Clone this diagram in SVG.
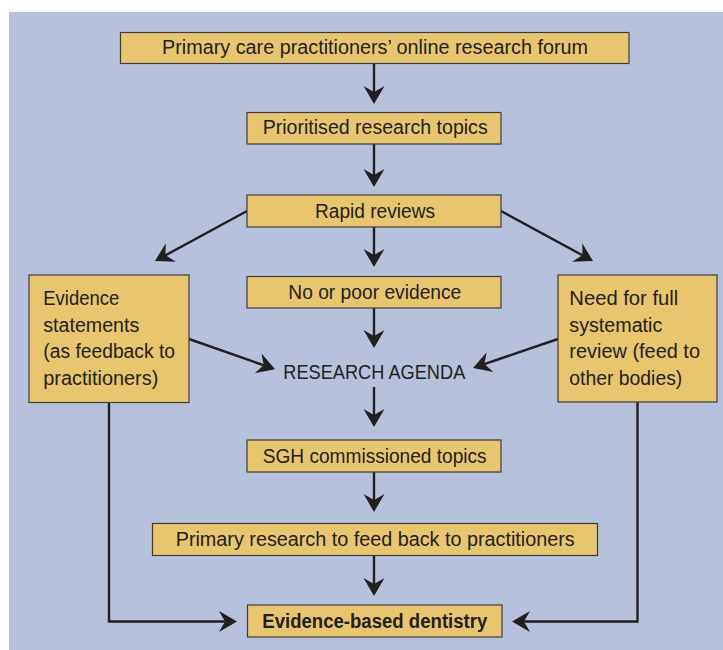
<svg xmlns="http://www.w3.org/2000/svg" width="723" height="650" viewBox="0 0 723 650">
<style>
.box{fill:#e8c66f;stroke:#3d3b3a;stroke-width:1.2}
.t{font-family:"Liberation Sans",Arial,sans-serif;font-size:19.5px;fill:#231f20}
.b{font-weight:bold}
.big{font-size:21px}
.c{fill:none;stroke:#231f20;stroke-width:2.4}
</style>
<defs>
<marker id="ah" viewBox="0 -11 18 22" refX="10" refY="0" markerWidth="18" markerHeight="22" markerUnits="userSpaceOnUse" orient="auto">
<path d="M18,0 L0,-10.5 L6,0 L0,10.5 Z" fill="#231f20"/>
</marker>
</defs>
<rect x="9" y="12" width="714" height="638" fill="#b8c1dc"/>
<g id="connectors">
<line class="c" x1="374" y1="63" x2="374" y2="96" marker-end="url(#ah)"/>
<line class="c" x1="374" y1="144" x2="374" y2="179" marker-end="url(#ah)"/>
<line class="c" x1="374" y1="227" x2="374" y2="259" marker-end="url(#ah)"/>
<line class="c" x1="374" y1="308" x2="374" y2="340" marker-end="url(#ah)"/>
<line class="c" x1="374" y1="387" x2="374" y2="419" marker-end="url(#ah)"/>
<line class="c" x1="374" y1="472" x2="374" y2="504" marker-end="url(#ah)"/>
<line class="c" x1="374" y1="555" x2="374" y2="588" marker-end="url(#ah)"/>
<line class="c" x1="247" y1="211" x2="162" y2="257.2" marker-end="url(#ah)"/>
<line class="c" x1="501" y1="211" x2="586" y2="257.2" marker-end="url(#ah)"/>
<line class="c" x1="189" y1="339" x2="267.5" y2="366.6" marker-end="url(#ah)"/>
<line class="c" x1="558" y1="339" x2="480.6" y2="365.4" marker-end="url(#ah)"/>
<path class="c" d="M109,402 V621.5 H229" marker-end="url(#ah)"/>
<path class="c" d="M637.5,402 V621.5 H520" marker-end="url(#ah)"/>
</g>
<g id="forum">
<rect class="box" x="120.5" y="32.5" width="508.5" height="31"/>
<text class="t" x="162" y="54" textLength="426" lengthAdjust="spacingAndGlyphs">Primary care practitioners’ online research forum</text>
</g>
<g id="prioritised">
<rect class="box" x="247" y="112.5" width="254" height="31.5"/>
<text class="t" x="262.7" y="134.3" textLength="225" lengthAdjust="spacingAndGlyphs">Prioritised research topics</text>
</g>
<g id="rapid">
<rect class="box" x="247" y="195" width="254" height="32"/>
<text class="t" x="315" y="217.5" textLength="120" lengthAdjust="spacingAndGlyphs">Rapid reviews</text>
</g>
<g id="poor">
<rect class="box" x="247" y="276.5" width="254" height="31.5"/>
<text class="t" x="288.3" y="298.5" textLength="173" lengthAdjust="spacingAndGlyphs">No or poor evidence</text>
</g>
<g id="statements">
<rect class="box" x="29" y="275" width="160" height="127.5"/>
<text class="t" x="43.3" y="305" textLength="76" lengthAdjust="spacingAndGlyphs">Evidence</text>
<text class="t" x="43.3" y="331.7" textLength="96" lengthAdjust="spacingAndGlyphs">statements</text>
<text class="t" x="43.3" y="358.3" textLength="131.7" lengthAdjust="spacingAndGlyphs">(as feedback to</text>
<text class="t" x="43.3" y="385" textLength="115" lengthAdjust="spacingAndGlyphs">practitioners)</text>
</g>
<g id="systematic">
<rect class="box" x="558" y="275" width="159" height="127"/>
<text class="t" x="569.3" y="305" textLength="109" lengthAdjust="spacingAndGlyphs">Need for full</text>
<text class="t" x="569.3" y="331.7" textLength="93" lengthAdjust="spacingAndGlyphs">systematic</text>
<text class="t" x="569.3" y="358.3" textLength="130.7" lengthAdjust="spacingAndGlyphs">review (feed to</text>
<text class="t" x="569.3" y="385" textLength="113" lengthAdjust="spacingAndGlyphs">other bodies)</text>
</g>
<g id="agenda">
<text class="t big" x="283.3" y="379" textLength="182" lengthAdjust="spacingAndGlyphs">RESEARCH AGENDA</text>
</g>
<g id="sgh">
<rect class="box" x="247" y="440" width="254" height="32"/>
<text class="t" x="262.7" y="462.5" textLength="224" lengthAdjust="spacingAndGlyphs">SGH commissioned topics</text>
</g>
<g id="primary">
<rect class="box" x="152.5" y="523.5" width="445" height="32"/>
<text class="t" x="175.7" y="545.7" textLength="399" lengthAdjust="spacingAndGlyphs">Primary research to feed back to practitioners</text>
</g>
<g id="ebd">
<rect class="box" x="247.5" y="605" width="254.5" height="32"/>
<text class="t b" x="262.3" y="628" textLength="225" lengthAdjust="spacingAndGlyphs">Evidence-based dentistry</text>
</g>
</svg>
